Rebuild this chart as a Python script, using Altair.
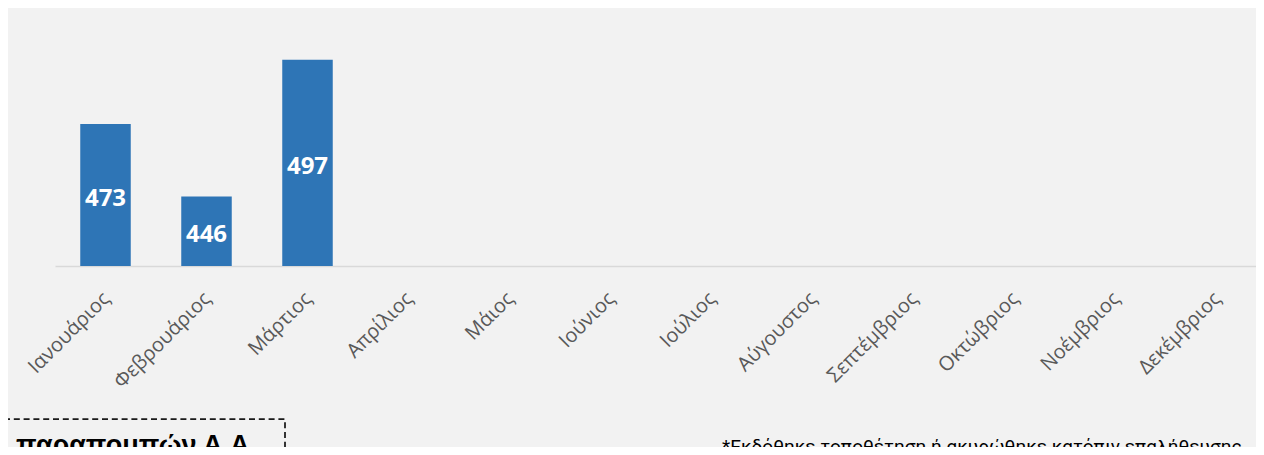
import altair as alt
import pandas as pd

months = ["Ιανουάριος", "Φεβρουάριος", "Μάρτιος", "Απρίλιος", "Μάιος", "Ιούνιος",
          "Ιούλιος", "Αύγουστος", "Σεπτέμβριος", "Οκτώβριος", "Νοέμβριος", "Δεκέμβριος"]
values = [473, 446, 497, None, None, None, None, None, None, None, None, None]
y_domain = [420, 510]
box_text = "Συνολικός αριθμός παραπομπών Α.Α."
footnote = "*Εκδόθηκε τοποθέτηση ή ακυρώθηκε κατόπιν επαλήθευσης"

df = pd.DataFrame({"month": months, "value": values})

xenc = alt.X(
    "month:N", sort=months,
    scale=alt.Scale(domain=months, range=[0, 1212], paddingInner=0.5, paddingOuter=0.25),
    axis=alt.Axis(title=None, labelAngle=-45, labelAlign="right", labelBaseline="top",
                  labelPadding=22, labelOffset=-6, labelColor="#595959", labelFont="Open Sans",
                  labelFontSize=20, domainColor="#d9d9d9", domainWidth=1.5, ticks=False,
                  grid=False, labelOverlap=False),
)
yenc = alt.Y("value:Q", scale=alt.Scale(domain=y_domain, zero=False, nice=False), axis=None)

base = alt.Chart(df)
bars = base.mark_bar(color="#2e75b6").encode(x=xenc, y=yenc, y2=alt.datum(y_domain[0]))
labels = base.transform_filter("isValid(datum.value)").transform_calculate(
    mid=f"(datum.value + {y_domain[0]}) / 2"
).mark_text(color="white", font="Open Sans", fontWeight="bold", fontSize=24,
            baseline="middle", dy=4).encode(
    x=alt.X("month:N", sort=months),
    y=alt.Y("mid:Q"),
    text=alt.Text("value:Q"),
)

one = pd.DataFrame({"k": [0]})
box = alt.Chart(one).mark_rect(filled=False, stroke="#1a1a1a", strokeDash=[6, 3.8],
                               strokeWidth=1.75).encode(
    x=alt.value(-100), x2=alt.value(230), y=alt.value(394), y2=alt.value(600))
btext = alt.Chart(one).mark_text(text=box_text, font="Liberation Sans", fontWeight="bold",
                                 fontSize=27, align="right", baseline="alphabetic",
                                 color="#000000").encode(x=alt.value(202), y=alt.value(429))
ftext = alt.Chart(one).mark_text(text=footnote, font="Roboto", fontSize=19, align="left",
                                 baseline="alphabetic", color="#000000").encode(
    x=alt.value(667), y=alt.value(428))

chart = alt.layer(bars, labels, box, btext, ftext).properties(
    width=1201, height=241,
    padding={"left": 47, "top": 17, "right": 0, "bottom": 181},
    autosize=alt.AutoSizeParams(type="none"),
).configure(background="#f2f2f2").configure_view(stroke=None)

chart.save("out.html", embed_options={"renderer": "svg", "actions": False})
